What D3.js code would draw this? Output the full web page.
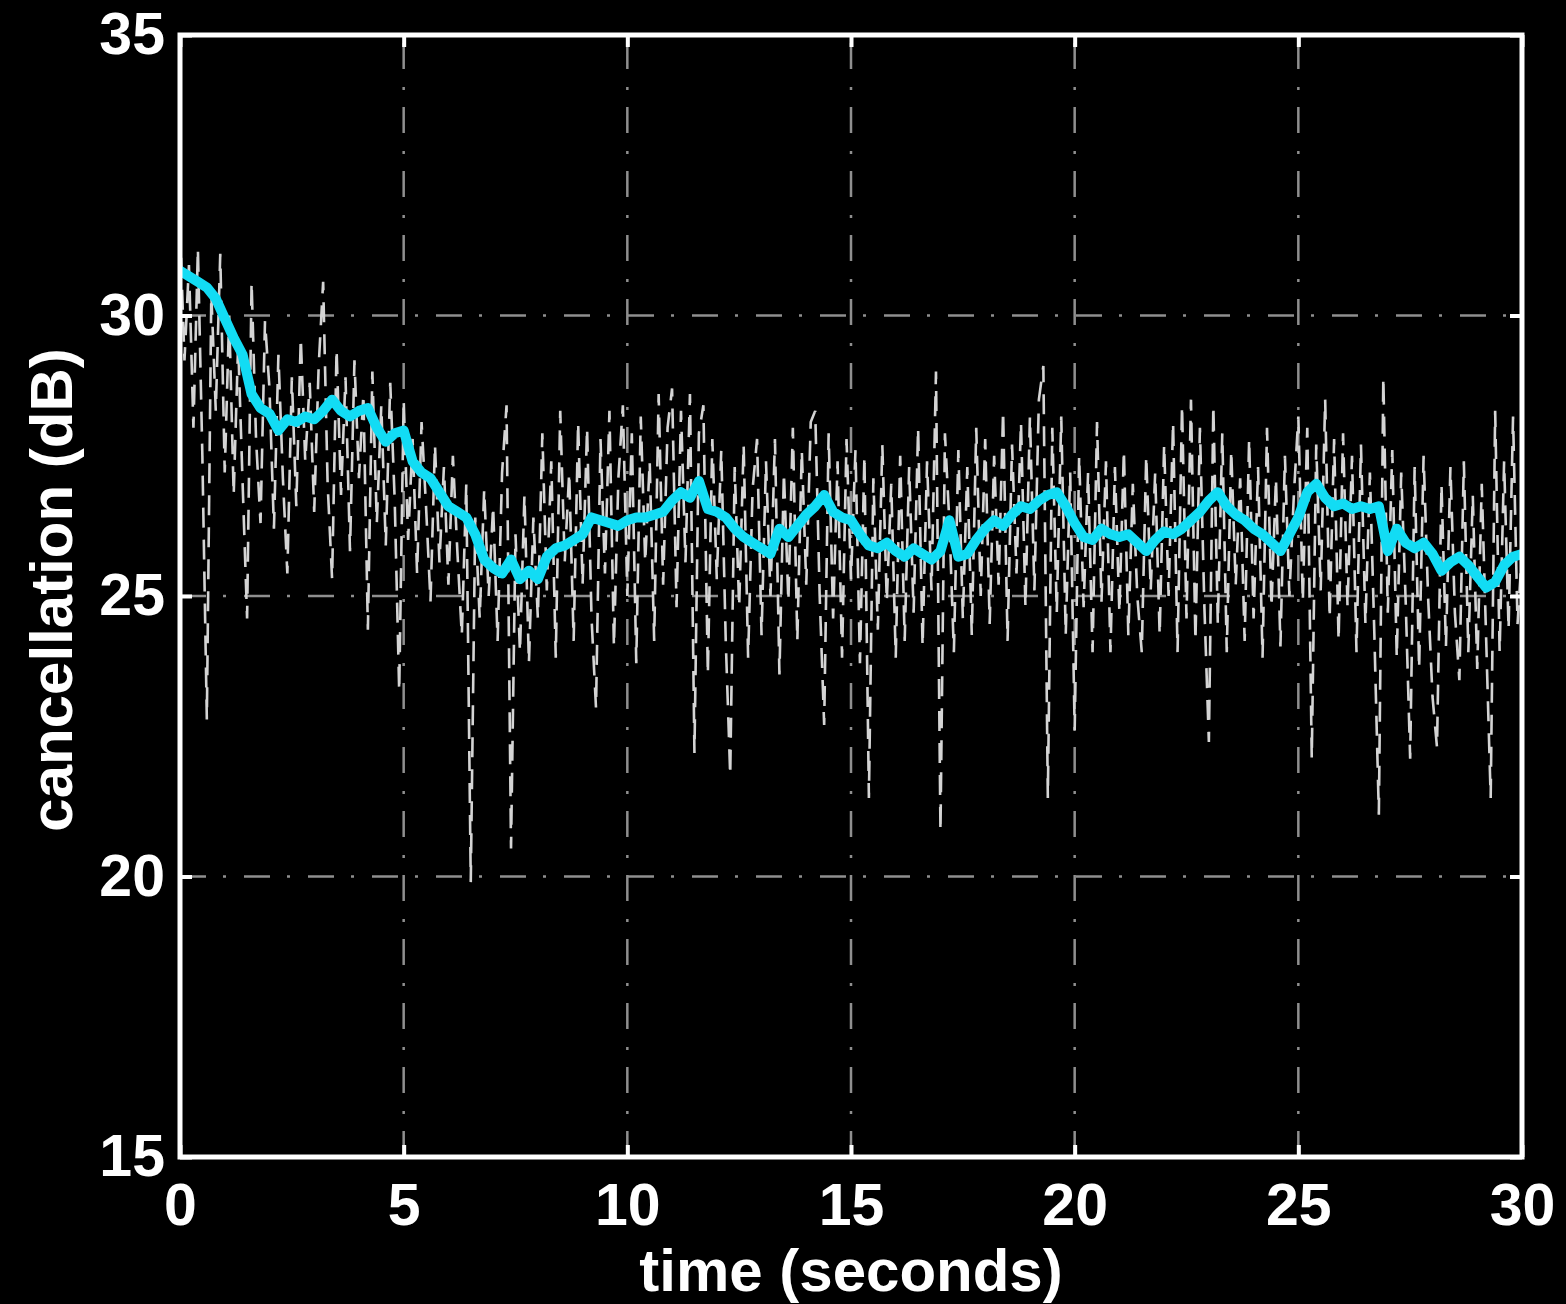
<!DOCTYPE html>
<html>
<head>
<meta charset="utf-8">
<script src="https://cdn.jsdelivr.net/npm/d3@7"></script>
<style>
  html, body { margin: 0; padding: 0; background: #000; }
  svg { display: block; }
</style>
</head>
<body>
<svg id="chart" width="1566" height="1304"></svg>
<script>
// Axis ticks
const xTicks = [0, 5, 10, 15, 20, 25, 30];
const yTicks = [15, 20, 25, 30, 35];

// Instantaneous cancellation (dB), sampled every 0.1 s from 0 to 30 s
const rawStep = 0.1;
const rawValues = [
  31.6, 29.2, 30.9, 28.0, 31.2, 27.5, 22.8, 30.4, 28.3, 31.1,
  27.2, 30.0, 26.8, 29.5, 27.0, 24.6, 30.6, 27.8, 26.3, 29.9,
  28.7, 26.2, 29.3, 27.1, 25.4, 28.9, 26.6, 29.6, 27.4, 28.8,
  26.5, 29.1, 30.6, 27.0, 25.3, 29.4, 26.8, 28.9, 25.8, 29.2,
  27.1, 28.6, 24.4, 29.0, 26.3, 28.4, 25.9, 28.8, 26.7, 23.3,
  28.5, 26.0, 27.8, 25.4, 28.1, 26.6, 24.9, 27.7, 25.6, 27.3,
  25.2, 27.5, 25.8, 24.3, 27.0, 19.9, 26.4, 24.6, 26.9, 25.0,
  26.6, 24.2, 27.2, 28.4, 20.5, 26.1, 24.0, 26.8, 23.8, 26.4,
  24.6, 27.9, 25.1, 27.4, 23.9, 28.3, 25.6, 27.2, 24.2, 28.1,
  25.2, 28.0, 24.6, 23.0, 27.8, 25.4, 28.3, 24.1, 27.1, 28.4,
  25.0, 27.9, 23.8, 28.2, 25.6, 27.4, 24.2, 28.6, 25.2, 28.0,
  28.7, 24.8, 28.3, 25.6, 28.6, 22.2, 27.9, 28.4, 23.6, 27.8,
  25.3, 27.6, 24.2, 21.8, 27.3, 24.8, 27.7, 23.9, 26.9, 27.8,
  24.3, 27.4, 25.0, 27.8, 23.6, 27.2, 24.9, 28.0, 24.2, 27.6,
  25.2, 28.1, 28.3, 25.0, 22.7, 27.9, 24.6, 27.4, 23.9, 27.8,
  25.3, 27.6, 23.8, 27.5, 21.4, 27.1, 24.4, 27.7, 24.9, 27.0,
  23.9, 27.5, 24.2, 27.3, 24.7, 28.0, 24.1, 27.4, 25.1, 29.0,
  20.8, 27.9, 26.3, 24.0, 27.6, 24.6, 27.3, 24.3, 28.0, 25.0,
  27.8, 24.5, 27.5, 25.2, 28.3, 24.2, 27.7, 25.4, 28.1, 24.8,
  28.2, 25.1, 28.5, 29.1, 21.4, 28.0, 24.7, 28.2, 24.3, 27.2,
  22.6, 27.5, 24.8, 27.2, 24.0, 28.1, 24.9, 27.4, 24.0, 27.3,
  24.7, 27.6, 24.3, 27.0, 25.0, 24.0, 27.5, 25.1, 27.2, 24.3,
  27.7, 25.0, 28.1, 24.0, 28.4, 24.6, 28.5, 24.2, 28.0, 24.8,
  22.4, 28.4, 24.5, 27.9, 24.0, 27.6, 25.2, 27.1, 24.2, 27.8,
  24.6, 27.3, 23.9, 28.0, 24.8, 27.1, 24.1, 27.5, 25.0, 26.8,
  28.2, 24.9, 28.0, 22.1, 27.7, 25.1, 28.5, 24.6, 27.8, 24.2,
  27.9, 24.8, 27.5, 24.0, 27.7, 24.5, 27.2, 24.3, 21.1, 28.9,
  24.7, 27.6, 23.9, 27.2, 24.9, 22.1, 27.3, 23.7, 27.5, 25.0,
  23.2, 22.3, 27.0, 24.1, 27.3, 24.7, 23.5, 27.4, 24.0, 26.8,
  23.7, 27.0, 24.2, 21.4, 28.3, 24.0, 27.4, 24.4, 28.2, 24.5,
  25.8
];

// Smoothed cancellation (dB), sampled every 0.2 s from 0 to 30 s
const smoothStep = 0.2;
const smoothValues = [
  30.8, 30.7, 30.6, 30.5, 30.3, 29.95, 29.6, 29.3, 28.6, 28.35,
  28.25, 27.95, 28.15, 28.1, 28.2, 28.15, 28.3, 28.5, 28.3, 28.2,
  28.3, 28.35, 28.0, 27.75, 27.9, 27.95, 27.4, 27.2, 27.1, 26.85,
  26.6, 26.5, 26.4, 26.1, 25.65, 25.5, 25.4, 25.65, 25.3, 25.45,
  25.3, 25.7, 25.85, 25.9, 26.0, 26.1, 26.4, 26.35, 26.3, 26.25,
  26.35, 26.4, 26.4, 26.45, 26.5, 26.7, 26.85, 26.75, 27.05, 26.55,
  26.5, 26.4, 26.2, 26.05, 25.95, 25.85, 25.75, 26.2, 26.05, 26.25,
  26.45, 26.6, 26.8, 26.5, 26.4, 26.35, 26.1, 25.9, 25.85, 25.95,
  25.8, 25.7, 25.85, 25.75, 25.65, 25.8, 26.35, 25.7, 25.75, 26.0,
  26.2, 26.35, 26.25, 26.45, 26.6, 26.55, 26.7, 26.8, 26.85, 26.6,
  26.3, 26.05, 26.0, 26.2, 26.1, 26.05, 26.1, 25.95, 25.8, 26.0,
  26.15, 26.1, 26.2, 26.35, 26.5, 26.7, 26.85, 26.6, 26.45, 26.35,
  26.2, 26.1, 25.95, 25.8, 26.1, 26.4, 26.85, 27.0, 26.75, 26.6,
  26.65, 26.55, 26.6, 26.55, 26.6, 25.8, 26.2, 25.95, 25.85, 25.95,
  25.75, 25.45, 25.6, 25.7, 25.55, 25.35, 25.15, 25.25, 25.55, 25.7,
  25.75
];

const W = 1566, H = 1304;
const plot = { left: 180, right: 1522, top: 35, bottom: 1157 };
const FONT = '"Liberation Sans", Arial, Helvetica, sans-serif';
const fontSize = 59;

const svg = d3.select('#chart');
svg.append('rect').attr('width', W).attr('height', H).attr('fill', '#000');

const x = d3.scaleLinear().domain([0, 30]).range([plot.left, plot.right]);
const y = d3.scaleLinear().domain([15, 35]).range([plot.bottom, plot.top]);

svg.append('defs').append('clipPath').attr('id', 'plot-clip')
  .append('rect')
  .attr('x', plot.left).attr('y', plot.top)
  .attr('width', plot.right - plot.left).attr('height', plot.bottom - plot.top);

// Dash-dot grid
const grid = svg.append('g')
  .attr('stroke', '#8f8f8f')
  .attr('stroke-width', 2.5)
  .attr('stroke-dasharray', '26,17,3,18')
  .attr('fill', 'none');
grid.selectAll('line.gx').data(xTicks).join('line')
  .attr('class', 'gx')
  .attr('x1', d => x(d)).attr('x2', d => x(d))
  .attr('y1', plot.bottom).attr('y2', plot.top);
grid.selectAll('line.gy').data(yTicks).join('line')
  .attr('class', 'gy')
  .attr('x1', plot.left).attr('x2', plot.right)
  .attr('y1', d => y(d)).attr('y2', d => y(d));

// Data lines
const data = svg.append('g').attr('clip-path', 'url(#plot-clip)');

const rawLine = d3.line()
  .x((d, i) => x(i * rawStep))
  .y(d => y(d));
data.append('path')
  .datum(rawValues)
  .attr('d', rawLine)
  .attr('fill', 'none')
  .attr('stroke', '#d4d4d4')
  .attr('stroke-width', 2.6)
  .attr('stroke-dasharray', '20,12');

const smoothLine = d3.line()
  .x((d, i) => x(i * smoothStep))
  .y(d => y(d));
data.append('path')
  .datum(smoothValues)
  .attr('d', smoothLine)
  .attr('fill', 'none')
  .attr('stroke', '#12dcf4')
  .attr('stroke-width', 10)
  .attr('stroke-linejoin', 'round')
  .attr('stroke-linecap', 'round');

// Axes with inward ticks
function styleAxis(g) {
  g.select('.domain').remove();
  g.selectAll('.tick line').attr('stroke', '#fff').attr('stroke-width', 4);
  g.selectAll('.tick text')
    .attr('fill', '#fff')
    .style('font-family', FONT)
    .style('font-weight', 'bold')
    .style('font-size', fontSize + 'px');
}

svg.append('g')
  .attr('transform', `translate(0,${plot.bottom})`)
  .call(d3.axisBottom(x).tickValues(xTicks).tickSizeInner(-12).tickSizeOuter(0).tickPadding(26))
  .call(styleAxis);

svg.append('g')
  .attr('transform', `translate(${plot.left},0)`)
  .call(d3.axisLeft(y).tickValues(yTicks).tickSizeInner(-12).tickSizeOuter(0).tickPadding(15))
  .call(styleAxis);

svg.append('g')
  .attr('transform', `translate(0,${plot.top})`)
  .call(d3.axisTop(x).tickValues(xTicks).tickFormat('').tickSizeInner(-12).tickSizeOuter(0))
  .call(styleAxis);

svg.append('g')
  .attr('transform', `translate(${plot.right},0)`)
  .call(d3.axisRight(y).tickValues(yTicks).tickFormat('').tickSizeInner(-12).tickSizeOuter(0))
  .call(styleAxis);

// Frame
svg.append('rect')
  .attr('x', plot.left).attr('y', plot.top)
  .attr('width', plot.right - plot.left).attr('height', plot.bottom - plot.top)
  .attr('fill', 'none')
  .attr('stroke', '#fff')
  .attr('stroke-width', 5);

// Axis titles
svg.append('text')
  .attr('x', (plot.left + plot.right) / 2)
  .attr('y', 1291)
  .attr('text-anchor', 'middle')
  .attr('fill', '#fff')
  .style('font-family', FONT)
  .style('font-weight', 'bold')
  .style('font-size', '60px')
  .text('time (seconds)');

svg.append('text')
  .attr('transform', `translate(72,590) rotate(-90)`)
  .attr('text-anchor', 'middle')
  .attr('fill', '#fff')
  .style('font-family', FONT)
  .style('font-weight', 'bold')
  .style('font-size', '60px')
  .text('cancellation (dB)');
</script>
</body>
</html>
